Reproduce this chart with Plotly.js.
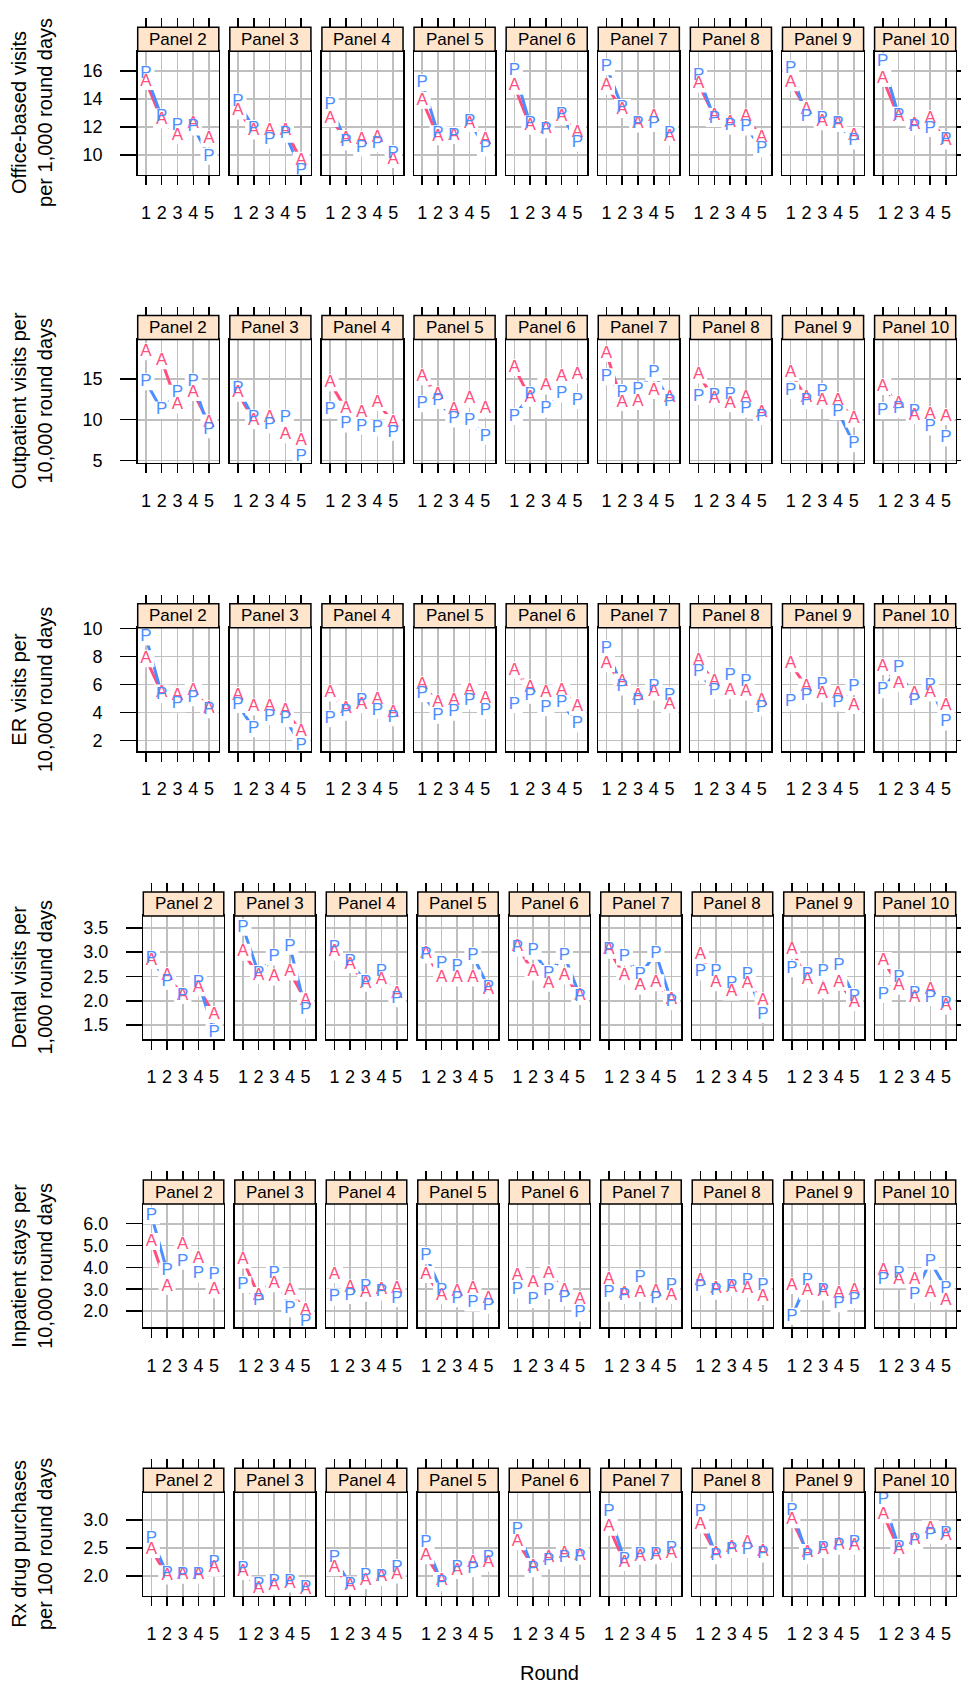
<!DOCTYPE html>
<html><head><meta charset="utf-8">
<script src="https://cdn.plot.ly/plotly-3.0.1.min.js"></script>
<style>html,body{margin:0;padding:0;background:#fff}#chart{width:961px;height:1688px}</style>
</head><body><div id="chart"></div>
<script>
const rounds = [1, 2, 3, 4, 5];
const panelNames = ["Panel 2","Panel 3","Panel 4","Panel 5","Panel 6","Panel 7","Panel 8","Panel 9","Panel 10"];
const measureLabels = [
  "Office-based visits<br>per 1,000 round days",
  "Outpatient visits per<br>10,000 round days",
  "ER visits per<br>10,000 round days",
  "Dental visits per<br>1,000 round days",
  "Inpatient stays per<br>10,000 round days",
  "Rx drug purchases<br>per 100 round days"
];
const yTickVals = [
  [10, 12, 14, 16],
  [5, 10, 15],
  [2, 4, 6, 8, 10],
  [1.5, 2.0, 2.5, 3.0, 3.5],
  [2, 3, 4, 5, 6],
  [2.0, 2.5, 3.0]
];
const yTickText = [
  ["10","12","14","16"],
  ["5","10","15"],
  ["2","4","6","8","10"],
  ["1.5","2.0","2.5","3.0","3.5"],
  ["2.0","3.0","4.0","5.0","6.0"],
  ["2.0","2.5","3.0"]
];
const yRanges = [[8.6, 17.39],[4.72, 19.84],[1.25, 10.07],[1.21, 3.745],[1.25, 6.9],[1.65, 3.49]];

// A series and P series, one row of 5 rounds per panel (Panel 2 .. Panel 10)
const officeA = [[15.24,12.5,11.4,12.2,11.15],[13.14,11.71,11.76,11.76,9.62],[12.6,11.17,11.1,11.24,9.67],[13.9,11.29,11.4,12.24,11.1],[14.9,12.05,11.88,12.75,11.57],[14.9,13.24,12.2,12.7,11.29],[15.05,12.76,12.29,12.71,11.24],[15.14,13.24,12.36,12.24,11.4],[15.45,12.7,12.12,12.6,11.0]];
const officeP = [[15.76,12.7,12.05,12.0,9.9],[13.79,11.88,11.05,11.48,8.9],[13.6,10.93,10.5,10.8,10.1],[15.17,11.52,11.4,12.4,10.5],[16.0,12.2,11.8,12.9,10.86],[16.29,13.38,12.24,12.24,11.48],[15.62,12.6,12.05,12.0,10.45],[16.17,12.7,12.6,12.24,11.0],[16.64,12.83,12.0,11.88,11.1]];
const outpatientA = [[18.33,17.24,11.83,13.33,9.6],[13.25,9.9,10.3,8.17,7.44],[14.55,11.3,10.9,12.1,9.67],[15.28,13.05,11.22,12.52,11.3],[16.42,12.64,14.15,15.28,15.49],[18.13,12.11,12.24,13.58,12.64],[15.49,12.52,11.95,12.64,10.9],[15.77,12.64,12.36,12.36,10.08],[14.07,11.95,10.5,10.6,10.4]];
const outpatientP = [[14.67,11.2,13.25,14.67,8.78],[13.74,10.2,9.4,10.2,5.45],[11.2,9.47,9.2,9.0,8.46],[11.95,12.36,10.08,9.92,7.97],[10.4,13.05,11.3,13.17,12.36],[15.28,13.33,13.66,15.77,12.24],[12.85,12.93,13.05,11.3,10.4],[13.58,12.36,13.46,11.0,7.07],[11.14,11.3,11.0,9.1,7.76]];
const erA = [[7.85,5.4,5.23,5.58,4.27],[5.23,4.39,4.39,4.15,2.6],[5.4,4.27,4.58,4.92,3.96],[6.0,4.68,4.82,5.54,4.99],[7.02,5.78,5.4,5.58,4.44],[7.49,6.18,5.23,5.47,4.58],[7.68,6.18,5.58,5.47,4.82],[7.49,5.82,5.35,5.35,4.51],[7.3,6.06,5.35,5.4,4.51]];
const erP = [[9.4,5.3,4.63,5.06,4.2],[4.58,2.84,3.72,3.56,1.65],[3.56,4.03,4.87,4.15,3.63],[5.35,3.8,4.03,4.82,4.15],[4.58,5.23,4.34,4.68,3.2],[8.57,5.82,4.87,5.82,5.23],[6.9,5.58,6.66,6.18,4.34],[4.75,5.23,6.0,4.68,5.87],[5.63,7.2,4.87,5.94,3.32]];
const dentalA = [[2.83,2.52,2.11,2.27,1.72],[3.0,2.52,2.49,2.59,2.0],[3.0,2.74,2.36,2.43,2.15],[2.97,2.47,2.47,2.47,2.22],[3.12,2.59,2.36,2.51,2.11],[3.05,2.51,2.3,2.37,2.03],[2.95,2.37,2.18,2.36,2.0],[3.04,2.43,2.22,2.38,1.96],[2.83,2.3,2.06,2.22,1.89]];
const dentalP = [[2.86,2.4,2.11,2.38,1.35],[3.51,2.56,2.9,3.12,1.81],[3.1,2.81,2.38,2.59,2.04],[2.94,2.77,2.7,2.93,2.27],[3.08,3.02,2.56,2.93,2.09],[3.04,2.9,2.54,2.97,1.98],[2.59,2.59,2.34,2.54,1.72],[2.66,2.54,2.59,2.71,2.09],[2.13,2.47,2.15,2.06,1.93]];
const inpatientA = [[5.19,3.13,5.04,4.39,2.97],[4.34,2.71,3.25,2.91,2.03],[3.67,3.06,2.82,2.97,3.02],[3.67,2.71,2.87,3.02,2.56],[3.63,3.28,3.73,2.94,2.52],[3.43,2.79,2.82,2.87,2.71],[3.37,3.02,3.06,3.02,2.67],[3.17,2.91,2.87,2.79,2.91],[3.83,3.43,3.43,2.82,2.46]];
const inpatientP = [[6.37,3.83,4.28,3.7,3.67],[3.22,2.46,3.7,2.11,1.5],[2.64,2.71,3.1,2.87,2.56],[4.54,2.91,2.56,2.37,2.26],[2.97,2.52,2.94,2.61,1.91],[2.82,2.71,3.52,2.56,3.17],[3.1,2.91,3.13,3.37,3.17],[1.76,3.37,2.94,2.33,2.52],[3.43,3.73,2.76,4.28,3.02]];
const rxA = [[2.47,2.0,2.02,2.02,2.14],[2.08,1.78,1.82,1.86,1.76],[2.15,1.82,1.92,1.98,2.02],[2.36,1.92,2.1,2.24,2.23],[2.61,2.17,2.32,2.39,2.36],[2.87,2.24,2.35,2.36,2.39],[2.91,2.39,2.51,2.6,2.43],[3.0,2.42,2.47,2.55,2.53],[3.09,2.47,2.65,2.84,2.72]];
const rxP = [[2.66,2.04,2.02,2.02,2.23],[2.13,1.84,1.89,1.9,1.8],[2.33,1.84,2.0,1.99,2.15],[2.59,1.88,2.14,2.13,2.32],[2.83,2.13,2.27,2.32,2.35],[3.14,2.29,2.38,2.38,2.49],[3.14,2.36,2.47,2.47,2.39],[3.17,2.36,2.49,2.53,2.59],[3.35,2.51,2.63,2.73,2.75]];

const seriesA = [officeA, outpatientA, erA, dentalA, inpatientA, rxA];
const seriesP = [officeP, outpatientP, erP, dentalP, inpatientP, rxP];

const colA = '#ff4f7f';
const colP = '#4d8eff';
const W = 961, H = 1688;
const FONT = 'Liberation Sans, Arial, Helvetica, sans-serif';
const rowTop0 = 51.3, rowStep = 288.2, panelH = 123.3, lastBottom = 1595.7, stripH = 24;
const rightEdge = 955.7, gap = 11;
const leftEdges = [137.7, 137.7, 137.7, 143.3, 143.3, 143.3];
const xRange = [0.48, 5.62];
const NP = 54;
const BOX = 17;

const lineTraces = [], boxTraces = [], textTraces = [], dummyTraces = [];
const layout = {
  width: W, height: H, margin: {l: 0, r: 0, t: 0, b: 0},
  showlegend: false, paper_bgcolor: 'white', plot_bgcolor: 'white',
  font: {family: FONT, color: 'black'},
  shapes: [], annotations: []
};

for (let r = 0; r < 6; r++) {
  const top = rowTop0 + r * rowStep;
  const bottom = (r === 5) ? lastBottom : top + panelH;
  const w = (rightEdge - leftEdges[r] - 8 * gap) / 9;
  for (let c = 0; c < 9; c++) {
    const n = r * 9 + c + 1;
    const x0 = leftEdges[r] + c * (w + gap), x1 = x0 + w;
    const xs = n === 1 ? '' : String(n);
    layout['xaxis' + xs] = {
      domain: [x0 / W, x1 / W], anchor: 'y' + xs, range: xRange,
      tickmode: 'array', tickvals: rounds, ticktext: rounds.map(String),
      ticks: 'outside', ticklen: 9, tickwidth: 1.5, tickcolor: 'black',
      showline: true, linecolor: 'black', linewidth: 1.5, mirror: true,
      showgrid: true, gridcolor: '#bfbfbf', gridwidth: 1.6, zeroline: false,
      tickfont: {size: 18, family: FONT, color: 'black'}, ticklabelstandoff: 12, fixedrange: true
    };
    layout['yaxis' + xs] = {
      domain: [1 - bottom / H, 1 - top / H], anchor: 'x' + xs, range: yRanges[r],
      tickmode: 'array', tickvals: yTickVals[r], ticktext: yTickText[r],
      ticks: (c === 0 || c === 8) ? 'outside' : '', side: c === 8 ? 'right' : 'left',
      showticklabels: c === 0, ticklen: 16, tickwidth: 1.5, tickcolor: 'black',
      showline: true, linecolor: 'black', linewidth: 1.5, mirror: true,
      showgrid: true, gridcolor: '#bfbfbf', gridwidth: 1.6, zeroline: false,
      tickfont: {size: 18, family: FONT, color: 'black'}, ticklabelstandoff: 14, fixedrange: true
    };
    const tn = String(NP + n);
    layout['xaxis' + tn] = {
      overlaying: 'x' + xs, anchor: 'free', position: 1 - (top - stripH) / H, side: 'top',
      range: xRange, tickmode: 'array', tickvals: rounds, ticks: 'outside', ticklen: 9,
      tickwidth: 1.5, tickcolor: 'black', showticklabels: false, showgrid: false,
      showline: false, zeroline: false, fixedrange: true
    };
    const A = seriesA[r][c], P = seriesP[r][c];
    const ax = {xaxis: 'x' + xs, yaxis: 'y' + xs, hoverinfo: 'skip', cliponaxis: true};
    lineTraces.push(Object.assign({x: rounds, y: A, mode: 'lines', line: {color: colA, width: 3}}, ax));
    lineTraces.push(Object.assign({x: rounds, y: P, mode: 'lines', line: {color: colP, width: 3}}, ax));
    boxTraces.push(Object.assign({x: rounds, y: A, mode: 'markers',
      marker: {symbol: 'square', size: BOX, color: 'white', line: {width: 0}}}, ax));
    boxTraces.push(Object.assign({x: rounds, y: P, mode: 'markers',
      marker: {symbol: 'square', size: BOX, color: 'white', line: {width: 0}}}, ax));
    textTraces.push(Object.assign({x: rounds, y: A, mode: 'text', text: rounds.map(() => 'A'),
      textposition: 'middle center', textfont: {color: colA, size: 17, family: FONT}}, ax));
    textTraces.push(Object.assign({x: rounds, y: P, mode: 'text', text: rounds.map(() => 'P'),
      textposition: 'middle center', textfont: {color: colP, size: 17, family: FONT}}, ax));
    dummyTraces.push({x: [null], y: [null], mode: 'markers', xaxis: 'x' + tn, yaxis: 'y' + xs, hoverinfo: 'skip'});

    layout.shapes.push({type: 'rect', xref: 'paper', yref: 'paper', x0: x0 / W, x1: x1 / W,
      y0: 1 - top / H, y1: 1 - (top - stripH) / H, fillcolor: '#ffe5cc',
      line: {color: 'black', width: 1.5}, layer: 'above'});
    layout.annotations.push({xref: 'paper', yref: 'paper', x: (x0 + x1) / 2 / W,
      y: 1 - (top - stripH / 2) / H, text: panelNames[c], showarrow: false,
      xanchor: 'center', yanchor: 'middle', font: {size: 17, family: FONT, color: 'black'}});
  }
  layout.annotations.push({xref: 'paper', yref: 'paper', x: 32 / W, y: 1 - (top + bottom) / 2 / H,
    text: measureLabels[r], showarrow: false, textangle: -90, xanchor: 'center', yanchor: 'middle',
    font: {size: 20, family: FONT, color: 'black'}});
}
layout.annotations.push({xref: 'paper', yref: 'paper', x: 549.5 / W, y: 1 - 1673 / H, text: 'Round',
  showarrow: false, xanchor: 'center', yanchor: 'middle', font: {size: 20, family: FONT, color: 'black'}});

const traces = lineTraces.concat(boxTraces, textTraces, dummyTraces);
Plotly.newPlot('chart', traces, layout, {staticPlot: true, displayModeBar: false});
</script></body></html>
